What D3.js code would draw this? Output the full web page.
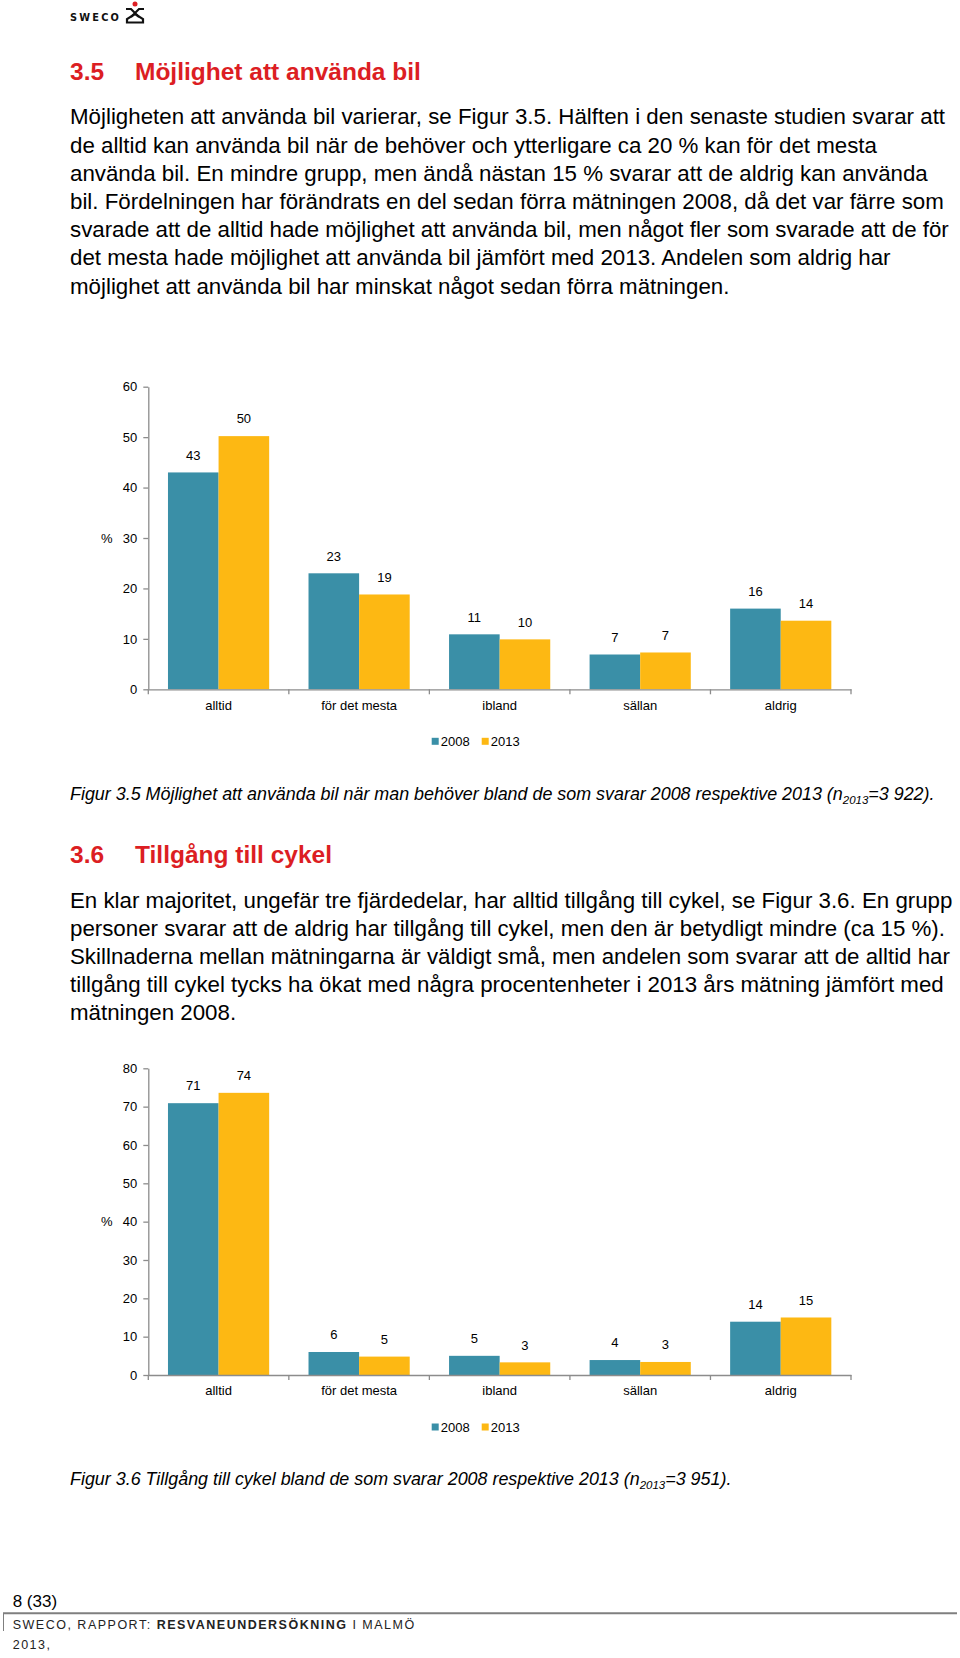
<!DOCTYPE html>
<meta charset="utf-8">

<!-- Page style: one white page, everything drawn in one svg. -->
<style type="text/css">
    body { margin: 0; background: #fff; }
    svg { display: block; font-family: "Liberation Sans", Arial, sans-serif; }
    .axis path, .axis line { stroke: #8c8c8c; stroke-width: 1.3; }
    .axis text { font-size: 13px; fill: #000; font-family: "Liberation Sans", Arial, sans-serif; }
</style>

<!-- Load d3.js -->
<script src="https://d3js.org/d3.v7.min.js"></script>

<body>
<div id="page"></div>

<script>

    // Data.
    var categories = ["alltid", "för det mesta", "ibland", "sällan", "aldrig"];
    var years = ["2008", "2013"];

    // Figur 3.5 - possibility to use a car (%)
    var bil2008 = [43, 23, 10.9, 6.9, 16];
    var bil2013 = [50.2, 18.8, 9.9, 7.3, 13.6];
    var bilTicks = [0, 10, 20, 30, 40, 50, 60];

    // Figur 3.6 - access to a bicycle (%)
    var cykel2008 = [70.9, 6, 5, 3.9, 13.9];
    var cykel2013 = [73.6, 4.8, 3.3, 3.4, 15];
    var cykelTicks = [0, 10, 20, 30, 40, 50, 60, 70, 80];

    // Report text, line by line as in the original page.
    var para1 = [
        "Möjligheten att använda bil varierar, se Figur 3.5. Hälften i den senaste studien svarar att",
        "de alltid kan använda bil när de behöver och ytterligare ca 20 % kan för det mesta",
        "använda bil. En mindre grupp, men ändå nästan 15 % svarar att de aldrig kan använda",
        "bil. Fördelningen har förändrats en del sedan förra mätningen 2008, då det var färre som",
        "svarade att de alltid hade möjlighet att använda bil, men något fler som svarade att de för",
        "det mesta hade möjlighet att använda bil jämfört med 2013. Andelen som aldrig har",
        "möjlighet att använda bil har minskat något sedan förra mätningen."
    ];
    var para2 = [
        "En klar majoritet, ungefär tre fjärdedelar, har alltid tillgång till cykel, se Figur 3.6. En grupp",
        "personer svarar att de aldrig har tillgång till cykel, men den är betydligt mindre (ca 15 %).",
        "Skillnaderna mellan mätningarna är väldigt små, men andelen som svarar att de alltid har",
        "tillgång till cykel tycks ha ökat med några procentenheter i 2013 års mätning jämfört med",
        "mätningen 2008."
    ];

    //Color coding for the years.
    var color_table = {
        "2008": "#3a8fa7",
        "2013": "#fdb813"
    };
    var red = "#dc1e23";

    var W = 960, H = 1658;

    var svg = d3.select("#page")
        .append("svg")
        .attr("width", W)
        .attr("height", H);

    svg.append("rect").attr("width", W).attr("height", H).attr("fill", "#fff");

    // ---- header logo ----
    svg.append("text")
        .attr("x", 70).attr("y", 21)
        .style("font-family", "'DejaVu Sans', sans-serif")
        .style("font-size", "9.8px").style("font-weight", "bold")
        .style("letter-spacing", "2.2px")
        .style("fill", "#111")
        .text("SWECO");
    var logo = svg.append("g").attr("fill", "none").attr("stroke", "#111").attr("stroke-width", 2.2);
    logo.append("path").attr("d", "M126,9 L131,9 L139,17 M144,9 L139,9 L131,17");
    logo.append("path").attr("d", "M127,22.5 L143,22.5 L143,19 L135,14 L127,19 Z");
    svg.append("circle").attr("cx", 135).attr("cy", 4).attr("r", 2.5).attr("fill", red);

    // ---- headings ----
    function heading(num, title, baseline) {
        svg.append("text").attr("x", 70).attr("y", baseline)
            .style("font-size", "24.5px").style("font-weight", "bold").style("fill", red)
            .text(num);
        svg.append("text").attr("x", 135).attr("y", baseline)
            .style("font-size", "24.5px").style("font-weight", "bold").style("fill", red)
            .text(title);
    }
    heading("3.5", "Möjlighet att använda bil", 80);
    heading("3.6", "Tillgång till cykel", 863.3);

    // ---- body paragraphs ----
    function paragraph(lines, firstBaseline, step) {
        svg.selectAll(null)
            .data(lines)
            .enter()
            .append("text")
            .attr("x", 70)
            .attr("y", function (d, i) { return firstBaseline + i * step; })
            .style("font-size", "22.3px")
            .style("fill", "#000")
            .text(function (d) { return d; });
    }
    paragraph(para1, 124.3, 28.2);
    paragraph(para2, 908.3, 28);

    // ---- figure captions ----
    function caption(before, after, baseline) {
        var t = svg.append("text").attr("x", 70).attr("y", baseline)
            .style("font-size", "17.9px").style("font-style", "italic");
        t.append("tspan").text(before);
        t.append("tspan").attr("dy", 4).style("font-size", "11.5px").text("2013");
        t.append("tspan").attr("dy", -4).text(after);
    }
    caption("Figur 3.5 Möjlighet att använda bil när man behöver bland de som svarar 2008 respektive 2013 (n",
        "=3 922).", 800);
    caption("Figur 3.6 Tillgång till cykel bland de som svarar 2008 respektive 2013 (n",
        "=3 951).", 1484.7);

    /**
     * Grouped bar chart between two pixel rows of the page.
     */
    function drawChart(top, bottom, ticks, s2008, s2013) {
        var left = 148.3, right = 851;

        var x0 = d3.scaleBand()
            .domain(categories)
            .range([left, right])
            .paddingInner(0.28)
            .paddingOuter(0.14);
        var x1 = d3.scaleBand()
            .domain(years)
            .range([0, x0.bandwidth()]);
        var y = d3.scaleLinear()
            .domain([0, d3.max(ticks)])
            .range([bottom, top]);

        var rows = categories.map(function (c, i) {
            return {cat: c, values: [{year: "2008", v: s2008[i]}, {year: "2013", v: s2013[i]}]};
        });

        var g = svg.append("g");

        // Bars
        var groups = g.selectAll("g.cat")
            .data(rows)
            .enter().append("g")
            .attr("class", "cat")
            .attr("transform", function (d) { return "translate(" + x0(d.cat) + ",0)"; });

        groups.selectAll("rect")
            .data(function (d) { return d.values; })
            .enter().append("rect")
            .attr("x", function (d) { return x1(d.year); })
            .attr("y", function (d) { return y(d.v); })
            .attr("width", x1.bandwidth())
            .attr("height", function (d) { return y(0) - y(d.v); })
            .style("fill", function (d) { return color_table[d.year]; });

        // Value labels
        groups.selectAll("text")
            .data(function (d) { return d.values; })
            .enter().append("text")
            .attr("x", function (d) { return x1(d.year) + x1.bandwidth() / 2; })
            .attr("y", function (d) { return y(d.v) - 12.8; })
            .style("text-anchor", "middle")
            .style("font-size", "13px")
            .text(function (d) { return d3.format(".0f")(d.v); });

        // Y axis
        g.append("g")
            .attr("class", "axis")
            .attr("transform", "translate(" + left + ",0)")
            .call(d3.axisLeft(y).tickValues(ticks).tickSize(5).tickSizeOuter(0).tickPadding(6));

        // X axis with labels in the middle of each category
        var xa = g.append("g")
            .attr("class", "axis")
            .attr("transform", "translate(0," + bottom + ")")
            .call(d3.axisBottom(x0).tickSize(0).tickSizeOuter(0).tickPadding(11));

        // tick marks at the category borders
        var step = x0.step();
        var borders = d3.range(categories.length + 1).map(function (i) { return left + i * step; });
        xa.selectAll("line.border")
            .data(borders)
            .enter().append("line")
            .attr("class", "border")
            .attr("x1", function (d) { return d; })
            .attr("x2", function (d) { return d; })
            .attr("y1", 0)
            .attr("y2", 5);

        // "%" axis title
        g.append("text")
            .attr("x", 106.7)
            .attr("y", (top + bottom) / 2 + 4.5)
            .style("text-anchor", "middle")
            .style("font-size", "13px")
            .text("%");

        // Legend
        var leg = g.selectAll("g.leg")
            .data(years)
            .enter().append("g")
            .attr("class", "leg")
            .attr("transform", function (d, i) { return "translate(" + (431.7 + i * 50) + "," + (bottom + 52) + ")"; });
        leg.append("rect")
            .attr("x", 0).attr("y", -3.5)
            .attr("width", 7).attr("height", 7)
            .style("fill", function (d) { return color_table[d]; });
        leg.append("text")
            .attr("x", 9)
            .attr("y", 4.6)
            .style("font-size", "13px")
            .text(function (d) { return d; });
    }

    drawChart(386.7, 689.3, bilTicks, bil2008, bil2013);
    drawChart(1068.3, 1375, cykelTicks, cykel2008, cykel2013);

    // ---- footer ----
    svg.append("text").attr("x", 12.7).attr("y", 1606.7)
        .style("font-size", "17px").text("8 (33)");
    svg.append("line").attr("x1", 3).attr("x2", 957).attr("y1", 1613.3).attr("y2", 1613.3)
        .attr("stroke", "#7f7f7f").attr("stroke-width", 2);
    svg.append("line").attr("x1", 3.5).attr("x2", 3.5).attr("y1", 1613).attr("y2", 1631)
        .attr("stroke", "#7f7f7f").attr("stroke-width", 1);
    var foot = svg.append("text").attr("x", 12.7).attr("y", 1629.3)
        .style("font-size", "12.5px").style("letter-spacing", "1.5px").style("fill", "#222");
    foot.append("tspan").text("SWECO, RAPPORT: ");
    foot.append("tspan").style("font-weight", "bold").text("RESVANEUNDERSÖKNING");
    foot.append("tspan").text(" I MALMÖ");
    svg.append("text").attr("x", 12.7).attr("y", 1649)
        .style("font-size", "12.5px").style("letter-spacing", "1.5px").style("fill", "#222")
        .text("2013,");

</script>
</body>
